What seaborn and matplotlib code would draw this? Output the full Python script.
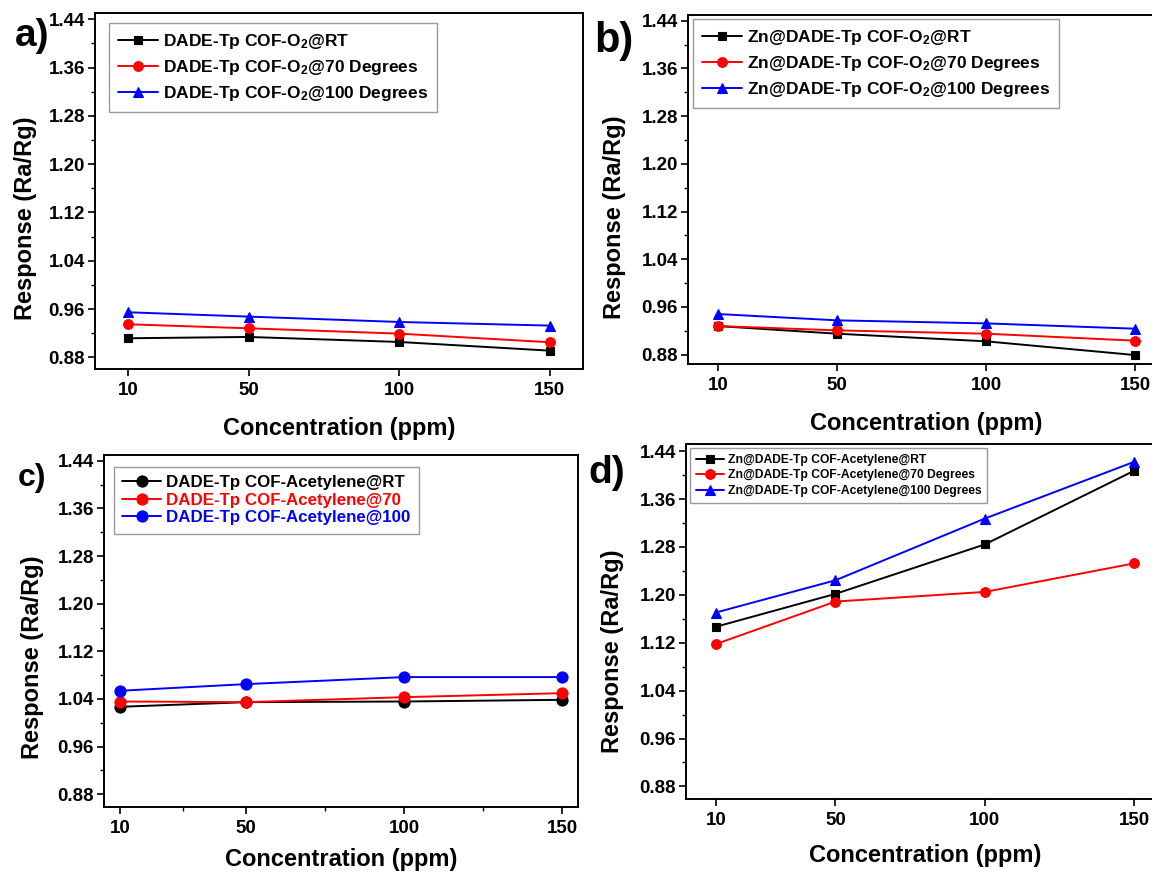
import matplotlib
matplotlib.use("Agg")
import matplotlib.pyplot as plt
import seaborn as sns
import numpy as np
import pandas as pd
from matplotlib.ticker import FixedLocator, FormatStrFormatter

# ---------------- data ----------------
conc = [10, 50, 100, 150]

a_rt = [0.9115, 0.9137, 0.9054, 0.8910]
a_70 = [0.9347, 0.9280, 0.9192, 0.9049]
a_100 = [0.9546, 0.9474, 0.9385, 0.9325]

b_rt = [0.9280, 0.9152, 0.9024, 0.8794]
b_70 = [0.9280, 0.9208, 0.9152, 0.9035]
b_100 = [0.9482, 0.9376, 0.9325, 0.9236]

c_rt = [1.0269, 1.0347, 1.0358, 1.0386]
c_70 = [1.0358, 1.0347, 1.0431, 1.0498]
c_100 = [1.0538, 1.0650, 1.0768, 1.0768]

d_rt = [1.1467, 1.2016, 1.2842, 1.4073]
d_70 = [1.1178, 1.1888, 1.2049, 1.2526]
d_100 = [1.1705, 1.2243, 1.3274, 1.4222]

labels_a = ["DADE-Tp COF-O$_2$@RT", "DADE-Tp COF-O$_2$@70 Degrees",
            "DADE-Tp COF-O$_2$@100 Degrees"]
labels_b = ["Zn@DADE-Tp COF-O$_2$@RT", "Zn@DADE-Tp COF-O$_2$@70 Degrees",
            "Zn@DADE-Tp COF-O$_2$@100 Degrees"]
labels_c = ["DADE-Tp COF-Acetylene@RT", "DADE-Tp COF-Acetylene@70",
            "DADE-Tp COF-Acetylene@100"]
labels_d = ["Zn@DADE-Tp COF-Acetylene@RT", "Zn@DADE-Tp COF-Acetylene@70 Degrees",
            "Zn@DADE-Tp COF-Acetylene@100 Degrees"]

y_major = [0.88, 0.96, 1.04, 1.12, 1.20, 1.28, 1.36, 1.44]
y_minor = [0.92, 1.00, 1.08, 1.16, 1.24, 1.32, 1.40]
x_minor_c = [30, 75, 125]
panel_tags = ["a)", "b)", "c)", "d)"]
xlabel = "Concentration (ppm)"
ylabel = "Response (Ra/Rg)"

# ---------------- style ----------------
sns.set_theme(style="ticks")
plt.rcParams["font.family"] = ["Liberation Sans", "DejaVu Sans"]
plt.rcParams["font.weight"] = "bold"
plt.rcParams["axes.labelweight"] = "bold"
plt.rcParams["text.color"] = "black"
plt.rcParams["axes.labelcolor"] = "black"
plt.rcParams["xtick.color"] = "black"
plt.rcParams["ytick.color"] = "black"
plt.rcParams["axes.edgecolor"] = "black"
plt.rcParams["mathtext.fontset"] = "custom"
plt.rcParams["mathtext.rm"] = "Liberation Sans:bold"
plt.rcParams["mathtext.bf"] = "Liberation Sans:bold"
plt.rcParams["mathtext.it"] = "Liberation Sans:bold"
plt.rcParams["mathtext.default"] = "bf"

colors = ["black", "#ff0000", "#0000ff"]

fig = plt.figure(figsize=(11.52, 8.72), dpi=100)
W, H = 1152, 872


def add_ax(left, right, top, bottom):
    return fig.add_axes([left / W, 1 - bottom / H, (right - left) / W, (bottom - top) / H])


panels = [
    dict(box=(95, 583, 13, 369), xlim=(-1, 161), ylim=(0.8606, 1.4504),
         series=[a_rt, a_70, a_100], labels=labels_a, markers=["s", "o", "^"],
         ms=[6, 7, 7.5], lfs=12.5, lspace=0.42, anchor=(0.0287, 0.972), lcolor=None,
         xminor=None, tag=(15, 36, 28), ylc=(-0.119, 0.424), xpad=13),
    dict(box=(688, 1165, 15, 364), xlim=(0, 160), ylim=(0.8644, 1.4496),
         series=[b_rt, b_70, b_100], labels=labels_b, markers=["s", "o", "^"],
         ms=[6, 7, 7.5], lfs=12.5, lspace=0.42, anchor=(0.0105, 0.9885), lcolor=None,
         xminor=None, tag=(594, 41, 30), ylc=(-0.130, 0.421), xpad=13),
    dict(box=(104, 578, 455, 807), xlim=(5, 155), ylim=(0.8587, 1.4496),
         series=[c_rt, c_70, c_100], labels=labels_c, markers=["o", "o", "o"],
         ms=[8, 8, 8], lfs=12.2, lspace=0.15, anchor=(0.021, 0.967), lcolor="linecolor",
         xminor=x_minor_c, tag=(18, 478, 23), ylc=(-0.127, 0.426), xpad=8),
    dict(box=(686, 1164, 444, 799), xlim=(0, 160), ylim=(0.859, 1.452),
         series=[d_rt, d_70, d_100], labels=labels_d, markers=["s", "o", "^"],
         ms=[6, 7, 7.5], lfs=8.7, lspace=0.3, anchor=(0.009, 0.9896), lcolor=None,
         xminor=None, tag=(588, 473, 28), ylc=(-0.130, 0.417), xpad=11),
]

for i, p in enumerate(panels):
    ax = add_ax(*p["box"])
    for vals, lab, col, mk, ms in zip(p["series"], p["labels"], colors, p["markers"], p["ms"]):
        df = pd.DataFrame({"conc": conc, "resp": vals})
        sns.lineplot(data=df, x="conc", y="resp", ax=ax, color=col, marker=mk,
                     markersize=ms, markeredgecolor=col, markeredgewidth=0.8,
                     linewidth=1.4, label=lab)
    ax.set_xlim(*p["xlim"])
    ax.set_ylim(*p["ylim"])
    ax.set_xticks(conc)
    ax.set_xticklabels([str(c) for c in conc])
    ax.yaxis.set_major_locator(FixedLocator(y_major))
    ax.yaxis.set_minor_locator(FixedLocator(y_minor))
    ax.yaxis.set_major_formatter(FormatStrFormatter("%.2f"))
    if p["xminor"] is not None:
        ax.xaxis.set_minor_locator(FixedLocator(p["xminor"]))
    ax.tick_params(axis="both", which="major", direction="out", length=5, width=1.2,
                   labelsize=13.5, colors="black")
    ax.tick_params(axis="x", which="major", pad=4.5)
    ax.tick_params(axis="y", which="major", pad=2.2)
    ax.tick_params(axis="both", which="minor", direction="out", length=3, width=1.0,
                   colors="black")
    for lbl in ax.get_xticklabels() + ax.get_yticklabels():
        lbl.set_fontweight("bold")
    for sp in ax.spines.values():
        sp.set_visible(True)
        sp.set_color("black")
        sp.set_linewidth(1.4)
    ax.set_xlabel(xlabel, fontsize=17, fontweight="bold", labelpad=p["xpad"], color="black")
    ax.set_ylabel(ylabel, fontsize=17, fontweight="bold", color="black")
    ax.yaxis.set_label_coords(*p["ylc"])
    ax.set_facecolor("white")

    leg = ax.legend(loc="upper left", bbox_to_anchor=p["anchor"], borderaxespad=0,
                    fontsize=p["lfs"], labelspacing=p["lspace"], handlelength=2.3,
                    handletextpad=0.3, borderpad=0.5, fancybox=False, framealpha=1,
                    edgecolor="#9a9a9a", labelcolor=p["lcolor"] or "black",
                    prop={"weight": "bold", "size": p["lfs"]})
    leg.get_frame().set_linewidth(1.0)

    tx, ty, tfs = p["tag"]
    fig.text(tx / W, 1 - ty / H, panel_tags[i], fontsize=tfs, fontweight="bold",
             ha="left", va="center", color="black")

fig.savefig("out.png", dpi=100, facecolor="white")
